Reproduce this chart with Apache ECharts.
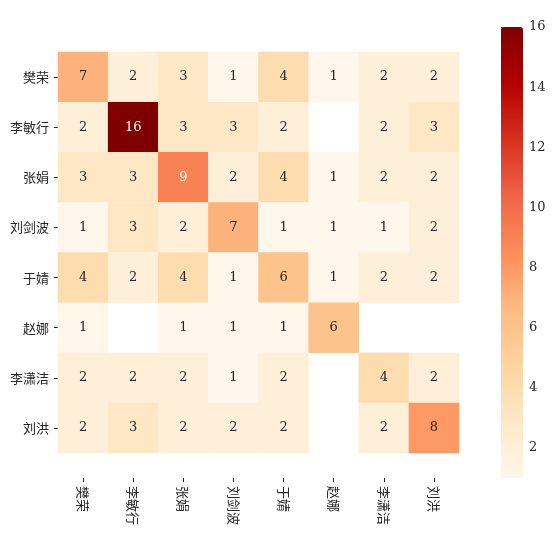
<!DOCTYPE html>
<html>
<head>
<meta charset="utf-8">
<script src="https://cdn.jsdelivr.net/npm/echarts@6/dist/echarts.min.js"></script>
<style>
  html, body { margin: 0; padding: 0; background: #fff; }
  #main { width: 556px; height: 556px; }
</style>
</head>
<body>
<div id="main"></div>
<script>
// 人员名单（行列相同）
var names = ['樊荣', '李敏行', '张娟', '刘剑波', '于婧', '赵娜', '李潇洁', '刘洪'];

// 每行数值，null 表示空格
var row0 = [7, 2, 3, 1, 4, 1, 2, 2];
var row1 = [2, 16, 3, 3, 2, null, 2, 3];
var row2 = [3, 3, 9, 2, 4, 1, 2, 2];
var row3 = [1, 3, 2, 7, 1, 1, 1, 2];
var row4 = [4, 2, 4, 1, 6, 1, 2, 2];
var row5 = [1, null, 1, 1, 1, 6, null, null];
var row6 = [2, 2, 2, 1, 2, null, 4, 2];
var row7 = [2, 3, 2, 2, 2, null, 2, 8];
var rows = [row0, row1, row2, row3, row4, row5, row6, row7];

// 色条刻度
var barTicks = [2, 4, 6, 8, 10, 12, 14, 16];
var vMin = 1, vMax = 16;

// OrRd
var orRd = ['#fff7ec', '#fee8c8', '#fdd49e', '#fdbb84', '#fc8d59', '#ef6548', '#d7301f', '#b30000', '#7f0000'];

var numFont = '"DejaVu Serif", "Liberation Serif", serif';
var cjkFont = '"Noto Sans CJK SC", sans-serif';

var data = [];
for (var r = 0; r < rows.length; r++) {
  for (var c = 0; c < rows[r].length; c++) {
    var v = rows[r][c];
    if (v == null) continue;
    data.push({
      value: [c, r, v],
      label: { color: v >= 9 ? '#ffffff' : '#262626' }
    });
  }
}

var chart = echarts.init(document.getElementById('main'), null, { renderer: 'canvas' });

var option = {
  backgroundColor: '#ffffff',
  animation: false,
  grid: [
    { left: 58, top: 52, width: 401, height: 401 },
    { left: 501, top: 27, width: 22, height: 451 }
  ],
  xAxis: [{
    gridIndex: 0,
    type: 'category',
    data: names,
    position: 'bottom',
    offset: 25,
    axisLine: { show: false },
    axisTick: { show: true, alignWithLabel: true, length: 4, lineStyle: { color: '#262626' } },
    axisLabel: { rotate: -90, margin: 8, color: '#262626', fontFamily: cjkFont, fontSize: 13 },
    splitLine: { show: false }
  }, {
    gridIndex: 1,
    type: 'value',
    show: false
  }],
  yAxis: [{
    gridIndex: 0,
    type: 'category',
    data: names,
    inverse: true,
    axisLine: { show: false },
    axisTick: { show: true, alignWithLabel: true, length: 4, lineStyle: { color: '#262626' } },
    axisLabel: { margin: 9, color: '#262626', fontFamily: cjkFont, fontSize: 13 },
    splitLine: { show: false }
  }, {
    gridIndex: 1,
    type: 'value',
    position: 'right',
    min: vMin,
    max: vMax,
    axisLine: { show: false },
    axisTick: { show: true, length: 4, inside: false, customValues: barTicks, lineStyle: { color: '#262626' } },
    axisLabel: { customValues: barTicks, margin: 6, color: '#262626', fontFamily: numFont, fontSize: 13 },
    splitLine: { show: false }
  }],
  visualMap: {
    type: 'continuous',
    min: vMin,
    max: vMax,
    seriesIndex: 0,
    calculable: false,
    orient: 'vertical',
    left: 501,
    top: 27,
    padding: 0,
    itemWidth: 22,
    itemHeight: 451,
    inRange: { color: orRd }
  },
  series: [{
    type: 'heatmap',
    xAxisIndex: 0,
    yAxisIndex: 0,
    data: data,
    label: { show: true, fontFamily: numFont, fontSize: 13 },
    itemStyle: { borderWidth: 0 },
    emphasis: { disabled: true }
  }]
};

chart.setOption(option);
</script>
</body>
</html>
